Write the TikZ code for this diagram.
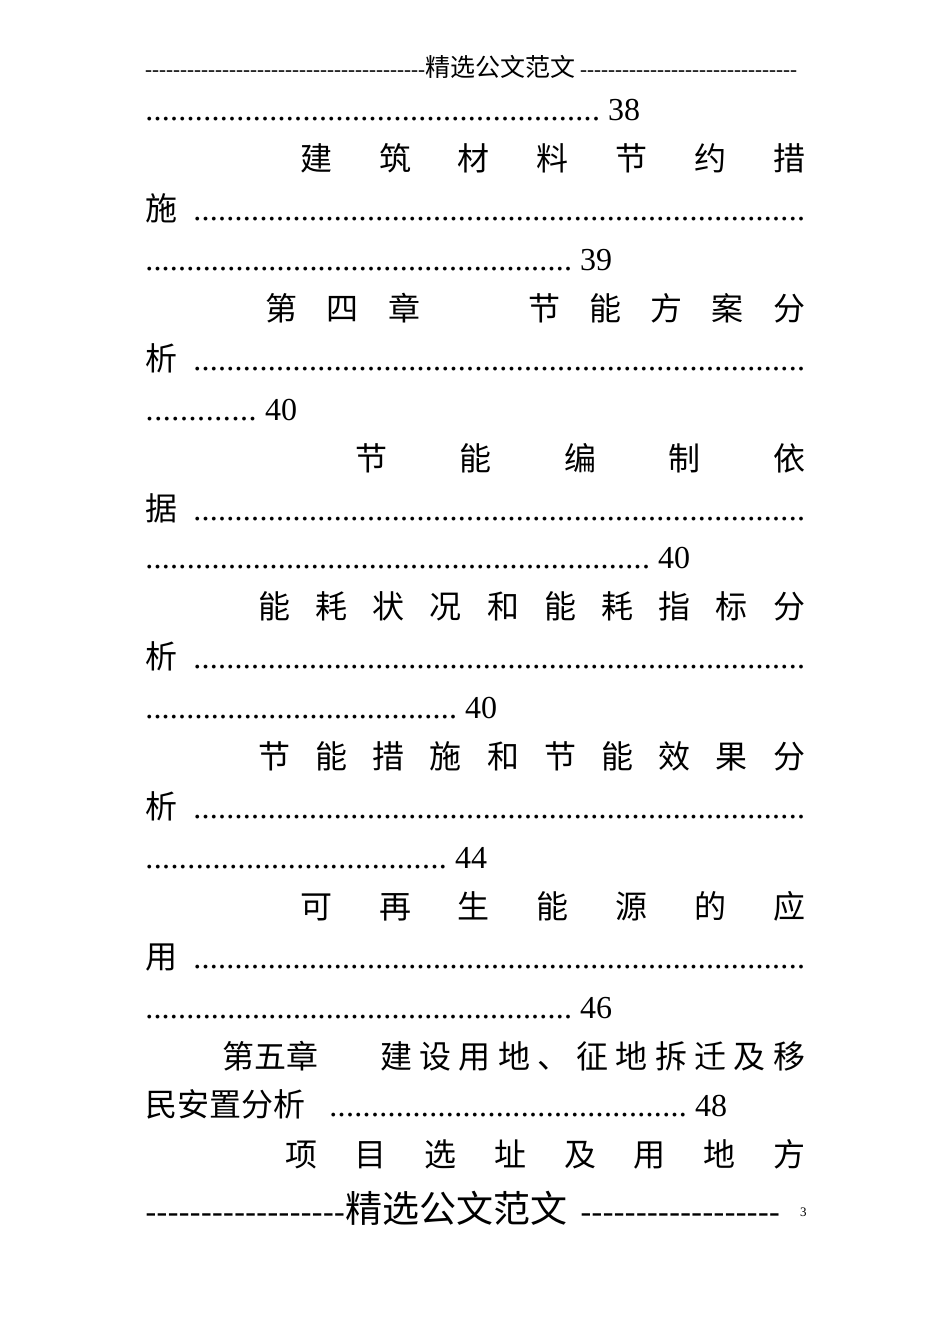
\documentclass[tikz,border=0pt]{standalone}
\usepackage{fontspec}
\setmainfont{Liberation Serif}
\newfontfamily\cjk{Noto Sans CJK SC}
\newcommand\dl{\xleaders\hbox to 8.2pt{\hss.\hss}\hfill}
\newcommand\dsh{\xleaders\hbox{-}\hfill}
\newcommand\wbox[2]{\hbox to #1pt{#2}}
\tikzset{ln/.style={anchor=base west,inner sep=0pt,font=\fontsize{32}{32}\selectfont}}
\begin{document}
\begin{tikzpicture}[x=1pt,y=1pt]
\useasboundingbox[fill=white] (0,0) rectangle (950,-1344);
\node[ln,font=\fontsize{21}{21}\selectfont] (hd) at (145,-76) {\wbox{280}{\dsh}\wbox{155}{\cjk\fontsize{25}{25}\selectfont 精选公文范文\hss}\wbox{217}{\dsh}};
\node[ln] (l1) at (145,-120) {\wbox{495}{\dl\ 38}};
\node[ln] (l2) at (300,-170) {\wbox{505}{\cjk 建\hfill 筑\hfill 材\hfill 料\hfill 节\hfill 约\hfill 措}};
\node[ln] (l3) at (145,-220) {\wbox{660}{\cjk 施\rmfamily\ \ \dl}};
\node[ln] (l4) at (145,-270) {\wbox{467}{\dl\ 39}};
\node[ln] (l5a) at (265,-320) {\wbox{155}{\cjk 第\hfill 四\hfill 章}};
\node[ln] (l5b) at (528,-320) {\wbox{277}{\cjk 节\hfill 能\hfill 方\hfill 案\hfill 分}};
\node[ln] (l6) at (145,-370) {\wbox{660}{\cjk 析\rmfamily\ \ \dl}};
\node[ln] (l7) at (145,-420) {\wbox{152}{\dl\ 40}};
\node[ln] (l8) at (355,-470) {\wbox{450}{\cjk 节\hfill 能\hfill 编\hfill 制\hfill 依}};
\node[ln] (l9) at (145,-520) {\wbox{660}{\cjk 据\rmfamily\ \ \dl}};
\node[ln] (l10) at (145,-568) {\wbox{545}{\dl\ 40}};
\node[ln] (l11) at (258,-618) {\wbox{547}{\cjk 能\hfill 耗\hfill 状\hfill 况\hfill 和\hfill 能\hfill 耗\hfill 指\hfill 标\hfill 分}};
\node[ln] (l12) at (145,-668) {\wbox{660}{\cjk 析\rmfamily\ \ \dl}};
\node[ln] (l13) at (145,-718) {\wbox{352}{\dl\ 40}};
\node[ln] (l14) at (258,-768) {\wbox{547}{\cjk 节\hfill 能\hfill 措\hfill 施\hfill 和\hfill 节\hfill 能\hfill 效\hfill 果\hfill 分}};
\node[ln] (l15) at (145,-818) {\wbox{660}{\cjk 析\rmfamily\ \ \dl}};
\node[ln] (l16) at (145,-868) {\wbox{342}{\dl\ 44}};
\node[ln] (l17) at (300,-918) {\wbox{505}{\cjk 可\hfill 再\hfill 生\hfill 能\hfill 源\hfill 的\hfill 应}};
\node[ln] (l18) at (145,-968) {\wbox{660}{\cjk 用\rmfamily\ \ \dl}};
\node[ln] (l19) at (145,-1018) {\wbox{467}{\dl\ 46}};
\node[ln] (l20a) at (222,-1068) {\cjk 第五章};
\node[ln] (l20b) at (380,-1068) {\wbox{425}{\cjk 建\hfill 设\hfill 用\hfill 地\hfill 、\hfill 征\hfill 地\hfill 拆\hfill 迁\hfill 及\hfill 移}};
\node[ln] (l21) at (145,-1116) {\wbox{582}{\cjk 民安置分析\rmfamily\ \ \ \dl\ 48}};
\node[ln] (l22) at (285,-1166) {\wbox{520}{\cjk 项\hfill 目\hfill 选\hfill 址\hfill 及\hfill 用\hfill 地\hfill 方}};
\node[ln] (ft) at (145,-1222) {\wbox{200}{\dsh}\wbox{235}{\cjk\fontsize{37}{37}\selectfont 精选公文范文\hss}\wbox{200}{\dsh}};
\node[ln,font=\fontsize{13}{13}\selectfont] (pg) at (800,-1216) {3};
\end{tikzpicture}
\end{document}
